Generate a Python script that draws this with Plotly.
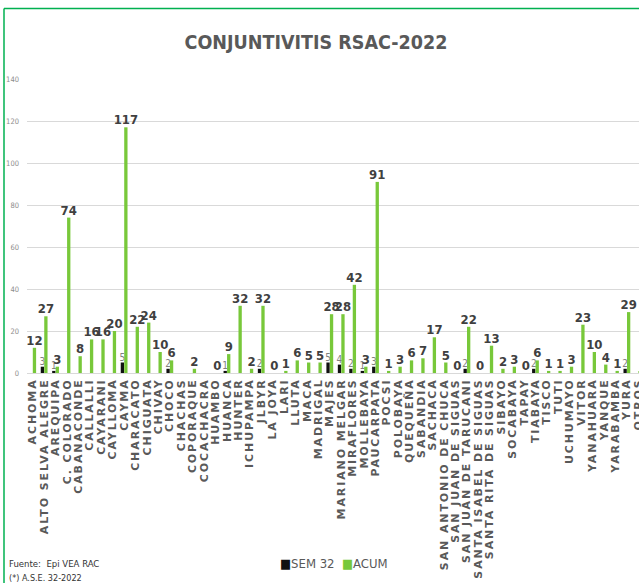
import plotly.graph_objects as go

categories = ["ACHOMA", "ALTO SELVA ALEGRE", "AREQUIPA", "C. COLORADO", "CABANACONDE",
              "CALLALLI", "CAYARANI", "CAYLLOMA", "CAYMA", "CHARACATO", "CHIGUATA",
              "CHIVAY", "CHOCO", "CHACHAS", "COPORAQUE", "COCACHACRA", "HUAMBO", "HUANCA",
              "HUNTER", "ICHUPAMPA", "JLBYR", "LA JOYA", "LARI", "LLUTA", "MACA",
              "MADRIGAL", "MAJES", "MARIANO MELGAR", "MIRAFLORES", "MOLLEBAYA",
              "PAUCARPATA", "POCSI", "POLOBAYA", "QUEQUEÑA", "SABANDIA", "SACHACA",
              "SAN ANTONIO DE CHUCA", "SAN JUAN DE SIGUAS", "SAN JUAN DE TARUCANI",
              "SANTA ISABEL DE SIGUAS", "SANTA RITA DE SIGUAS", "SIBAYO", "SOCABAYA",
              "TAPAY", "TIABAYA", "TISCO", "TUTI", "UCHUMAYO", "VITOR", "YANAHUARA",
              "YANQUE", "YARABAMBA", "YURA", "OTROS"]

sem32 = [None, 3, 1, None, None, None, None, None, 5, None, None, None, 2, None, None,
         None, None, 1, None, None, 2, None, None, None, None, None, 5, 4, 2, 1,
         3, None, None, None, None, None, None, None, 2, None, None, None, None,
         None, 2, None, None, None, None, None, None, None, 2, None]

acum = [12, 27, 3, 74, 8, 16, 16, 20, 117, 22, 24, 10, 6, None, 2, None, 0, 9,
        32, 2, 32, 0, 1, 6, 5, 5, 28, 28, 42, 3, 91, 1, 3, 6, 7, 17, 5, 0, 22,
        0, 13, 2, 3, 0, 6, 1, 1, 3, 23, 10, 4, 1, 29, 1]

y_ticks = [0, 20, 40, 60, 80, 100, 120, 140]

NARROW = "DejaVu Sans Condensed, Liberation Sans Narrow, Arial Narrow, sans-serif"

SEM_COLOR = "#111111"
ACUM_COLOR = "#78C83A"

fig = go.Figure()
fig.add_trace(go.Bar(
    x=categories, y=sem32, name="SEM 32",
    marker=dict(color=SEM_COLOR, line=dict(width=0)),
    text=[("" if v is None else str(v)) for v in sem32],
    textposition="outside", constraintext="none", cliponaxis=False,
    textfont=dict(family=NARROW, size=10, color="#808080"),
))
fig.add_trace(go.Bar(
    x=categories, y=acum, name="ACUM",
    marker=dict(color=ACUM_COLOR, line=dict(width=0)),
    text=[("" if v is None else str(v)) for v in acum],
    textposition="outside", constraintext="none", cliponaxis=False,
    textfont=dict(family=NARROW, size=13, color="#404040", weight="bold"),
))

W, H = 639, 583
L, R, T, B = 27, 0, 79, 210
pw = W - L - R
ph = H - T - B

def px_x(x):
    return (x - L) / pw

def px_y(y):
    return (H - B - y) / ph

shapes = [
    dict(type="line", xref="paper", yref="paper", x0=px_x(4), x1=px_x(700),
         y0=px_y(8.5), y1=px_y(8.5), line=dict(color="#00B050", width=1.5)),
    dict(type="line", xref="paper", yref="paper", x0=px_x(4), x1=px_x(4),
         y0=px_y(8.5), y1=px_y(700), line=dict(color="#00B050", width=1.5)),
]

legend_text = (f"<span style='color:{SEM_COLOR}'>■</span>SEM 32  "
               f"<span style='color:{ACUM_COLOR}'>■</span>ACUM")

tick_text = [f"<span style='letter-spacing:1.9px'>{c}</span>" for c in categories]

fig.update_layout(
    width=W, height=H,
    margin=dict(l=L, r=R, t=T, b=B, autoexpand=False),
    paper_bgcolor="white", plot_bgcolor="white",
    barmode="group", bargap=0.39, bargroupgap=0.05,
    title=dict(text="<b>CONJUNTIVITIS RSAC-2022</b>", xref="container", x=316 / W,
               xanchor="center", y=1 - 42 / H, yanchor="middle",
               font=dict(family=NARROW, size=19.5, color="#595959")),
    showlegend=False,
    shapes=shapes,
    annotations=[
        dict(text=legend_text, xref="paper", yref="paper",
             x=px_x(334), y=px_y(563), xanchor="center", yanchor="middle", showarrow=False,
             font=dict(family=NARROW, size=13, color="#595959")),
        dict(text="Fuente:  Epi VEA RAC", xref="paper", yref="paper",
             x=px_x(7), y=px_y(563), xanchor="left", yanchor="middle", showarrow=False,
             font=dict(family=NARROW, size=9.5, color="#333333")),
        dict(text="(*) A.S.E. 32-2022", xref="paper", yref="paper",
             x=px_x(7), y=px_y(578), xanchor="left", yanchor="middle", showarrow=False,
             font=dict(family=NARROW, size=9, color="#333333")),
    ],
)

fig.update_xaxes(
    type="category", range=[-0.5, 53.06], tickangle=-90,
    tickmode="array", tickvals=categories, ticktext=tick_text,
    tickfont=dict(family="DejaVu Sans, sans-serif", size=11, color="#595959", weight="bold"),
    showgrid=False, showline=True, linecolor="#d9d9d9", linewidth=1,
    ticks="", automargin=False,
)
fig.update_yaxes(
    range=[0, 140], tickvals=y_ticks, showgrid=True, gridcolor="#d9d9d9", gridwidth=1,
    tickfont=dict(family=NARROW, size=7.5, color="#8c8c8c"), ticks="",
    ticklabelstandoff=7, zeroline=False, showline=False, automargin=False,
)

fig.write_html("out.html", config={"displayModeBar": False},
               post_script="document.body.style.margin='0px';")
